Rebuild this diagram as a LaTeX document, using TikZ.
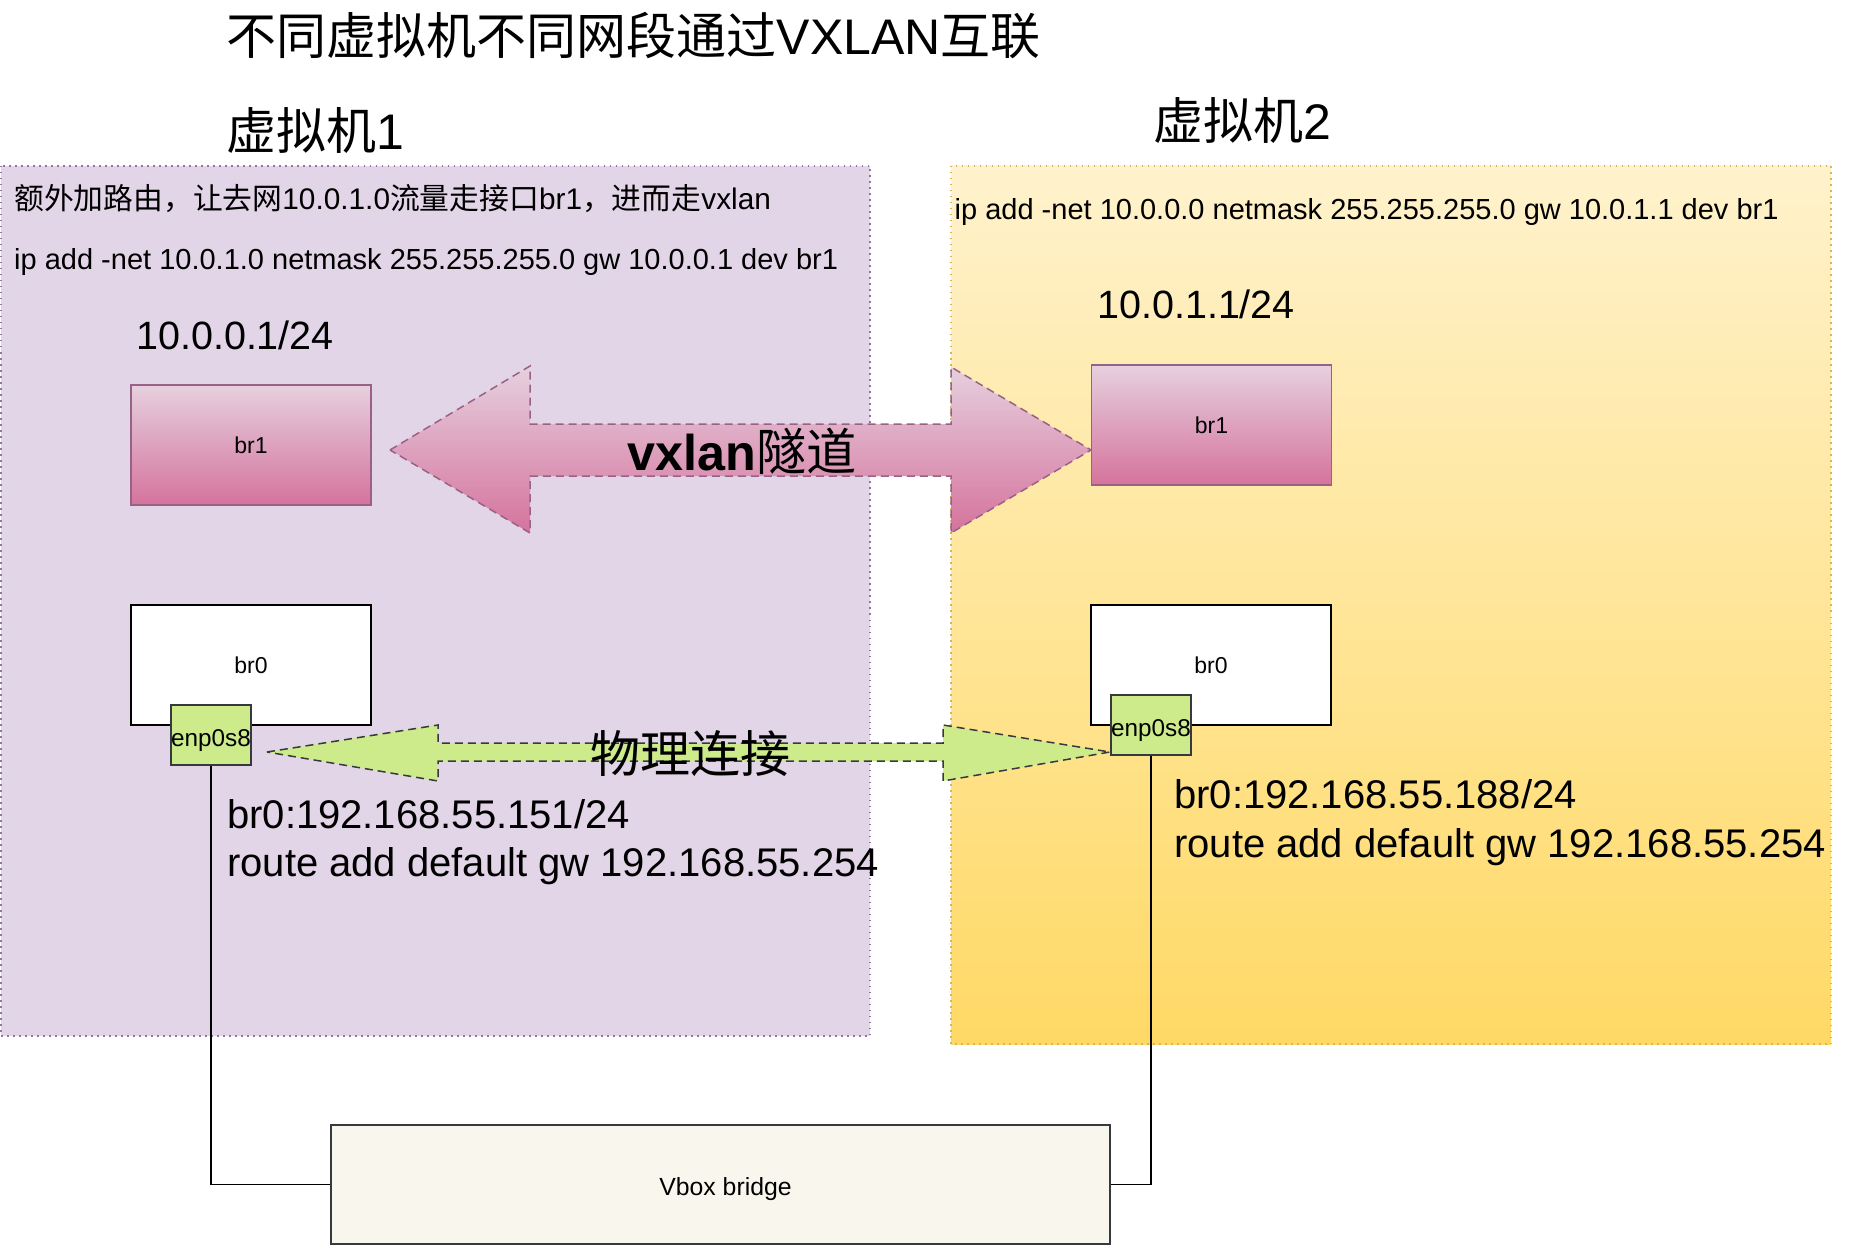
\documentclass[tikz,border=0pt]{standalone}
\usepackage{fontspec}
\setmainfont{Liberation Sans}
\newfontfamily\cjk{Noto Sans CJK SC}
\definecolor{purpfill}{HTML}{E1D5E7}
\definecolor{purpline}{HTML}{9673A6}
\definecolor{yeltop}{HTML}{FFF2CC}
\definecolor{yelbot}{HTML}{FFD966}
\definecolor{yelline}{HTML}{D6B656}
\definecolor{pinktop}{HTML}{E6D0DE}
\definecolor{pinkbot}{HTML}{D5739D}
\definecolor{pinkline}{HTML}{996185}
\definecolor{greenfill}{HTML}{CDEB8B}
\definecolor{darkline}{HTML}{36393D}
\definecolor{bridgefill}{HTML}{F9F7ED}
\newcommand{\fs}[1]{\fontsize{#1}{#1}\selectfont}
\begin{document}
\begin{tikzpicture}[x=1pt,y=-1pt,
  vmpurple/.style={fill=purpfill,draw=purpline,line width=1.5pt,dash pattern=on 1.5pt off 4.5pt},
  vmyellow/.style={top color=yeltop,bottom color=yelbot,draw=yelline,line width=1.5pt,dash pattern=on 1.5pt off 4.5pt},
  pinkbox/.style={rectangle,top color=pinktop,bottom color=pinkbot,draw=pinkline,line width=1.5pt,
    minimum width=240pt,minimum height=120pt,inner sep=0pt,font=\fs{23}},
  whitebox/.style={rectangle,fill=white,draw=black,line width=2pt,
    minimum width=240pt,minimum height=120pt,inner sep=0pt,font=\fs{23}},
  nicbox/.style={rectangle,fill=greenfill,draw=darkline,line width=2pt,
    minimum width=80pt,minimum height=60pt,inner sep=0pt,font=\fs{24.3},
    text height=27pt,text depth=5pt},
  bridgebox/.style={rectangle,fill=bridgefill,draw=darkline,line width=2pt,
    minimum width=779pt,minimum height=119pt,inner sep=0pt},
  pinkarrow/.style={top color=pinktop,bottom color=pinkbot,draw=pinkline,line width=1.5pt,dash pattern=on 8pt off 5pt},
  greenarrow/.style={fill=greenfill,draw=darkline,line width=1.5pt,dash pattern=on 8pt off 5pt},
  wire/.style={draw=black,line width=1.5pt},
  lbl/.style={anchor=base west,inner sep=0pt}]
\useasboundingbox (0,0) rectangle (1852,1246);
\fill[white] (0,0) rectangle (1852,1246);

% VM areas
\path[vmpurple] (1,166) rectangle (870,1036);
\path[vmyellow] (951,166) rectangle (1831,1044);

% tunnels
\path[pinkarrow] (390,450) -- (530,366) -- (530,424) -- (951,424) -- (951,367) -- (1091,450)
  -- (951,533) -- (951,476) -- (530,476) -- (530,533) -- cycle;
\path[greenarrow] (267,752) -- (438,725) -- (438,743) -- (943,743) -- (943,725) -- (1110,752)
  -- (943,781) -- (943,761) -- (438,761) -- (438,781) -- cycle;

% boxes
\node[pinkbox] (br1L) at (251,445) {br1};
\node[pinkbox] (br1R) at (1211.5,425) {br1};
\node[whitebox] (br0L) at (251,665) {br0};
\node[whitebox] (br0R) at (1211,665) {br0};
\node[nicbox] (enpL) at (211,735) {enp0s8};
\node[nicbox] (enpR) at (1151,725) {enp0s8};
\node[bridgebox] (vbox) at (720.5,1184.5) {};
\node[inner sep=0pt,font=\fs{24.8}] (vboxtext) at ([xshift=5pt,yshift=-5pt]vbox.center) {Vbox bridge};

% wires
\draw[wire] (enpL.south) |- (vbox.west);
\draw[wire] (enpR.south) |- (vbox.east);

% texts
\node[lbl,font=\fs{50}] (title) at (226.5,55) {{\cjk 不同虚拟机不同网段通过}VXLAN{\cjk 互联}};
\node[lbl,font=\fs{50}] (vm1) at (226.5,150) {{\cjk 虚拟机}1};
\node[lbl,font=\fs{50}] (vm2) at (1153,140) {{\cjk 虚拟机}2};
\node[lbl,font=\fs{29.8}] (note1) at (14,210) {{\cjk 额外加路由，让去网}10.0.1.0{\cjk 流量走接口}br1{\cjk ，进而走}vxlan};
\node[lbl,font=\fs{29}] (rt1) at (14,270) {ip add -net 10.0.1.0 netmask 255.255.255.0 gw 10.0.0.1 dev br1};
\node[lbl,font=\fs{29}] (rt2) at (954.5,220) {ip add -net 10.0.0.0 netmask 255.255.255.0 gw 10.0.1.1 dev br1};
\node[lbl,font=\fs{39.5}] (ipL) at (136,349) {10.0.0.1/24};
\node[lbl,font=\fs{39.5}] (ipR) at (1097,319) {10.0.1.1/24};
\node[inner sep=0pt,font=\fs{50.3}] (vx) at (742,451) {\textbf{vxlan}{\cjk 隧道}};
\node[inner sep=0pt,font=\fs{50}] (phy) at (690,754) {{\cjk 物理连接}};
\node[lbl,font=\fs{40}] (a1) at (227,828) {br0:192.168.55.151/24};
\node[lbl,font=\fs{40}] (a2) at (227,876) {route add default gw 192.168.55.254};
\node[lbl,font=\fs{40}] (b1) at (1174,808) {br0:192.168.55.188/24};
\node[lbl,font=\fs{40}] (b2) at (1174,857) {route add default gw 192.168.55.254};
\end{tikzpicture}
\end{document}
